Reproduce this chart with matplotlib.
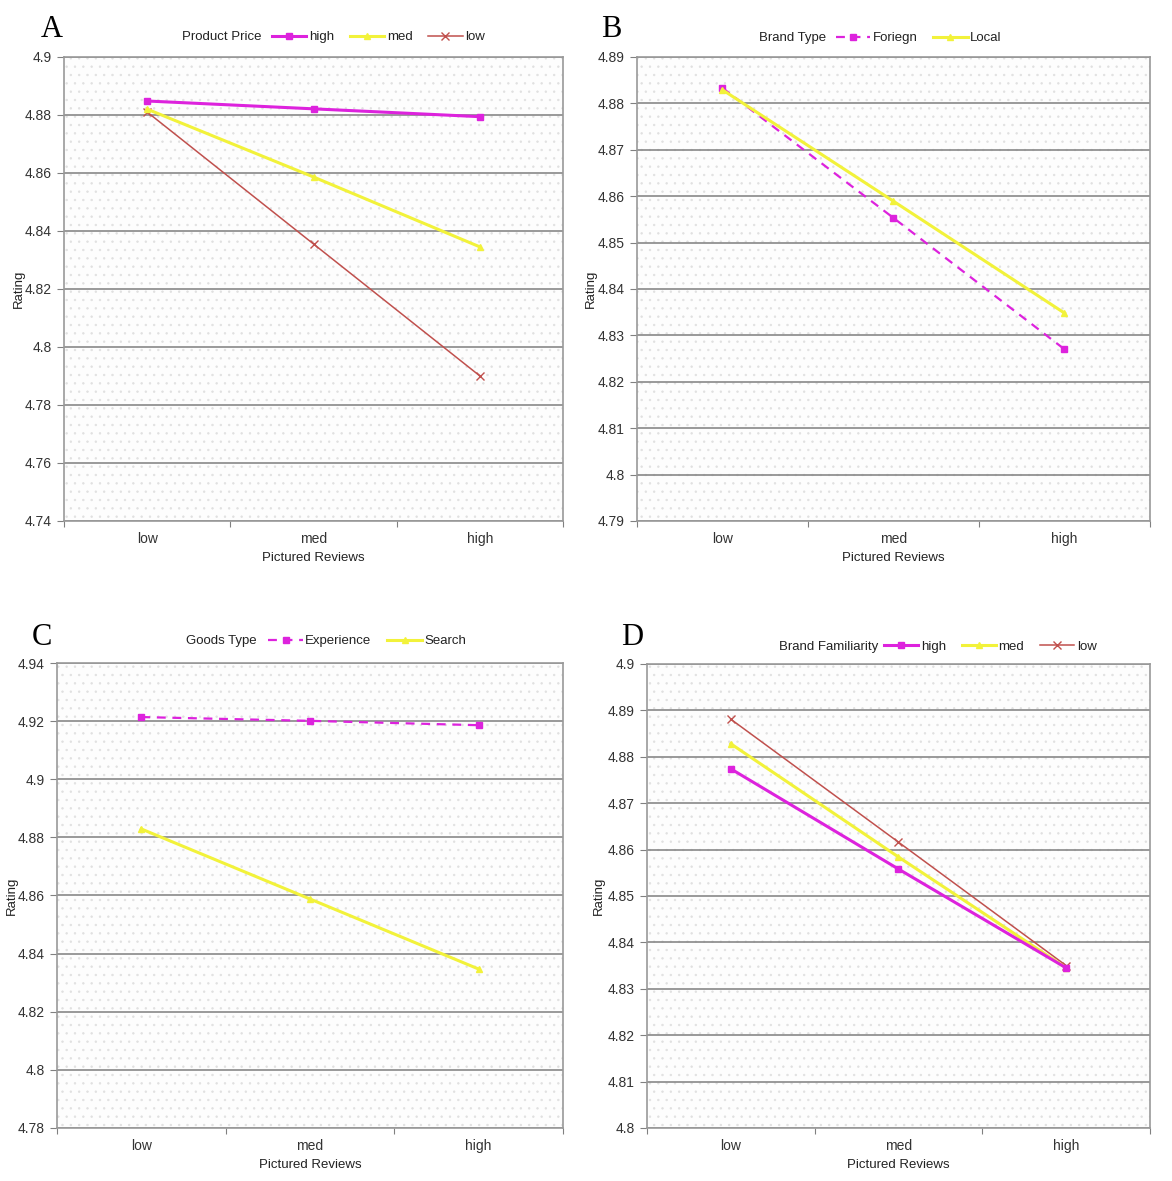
import matplotlib
matplotlib.use('Agg')
import matplotlib.pyplot as plt
from matplotlib.lines import Line2D

plt.rcParams['font.family'] = ['Liberation Sans', 'DejaVu Sans']
plt.rcParams['hatch.linewidth'] = 0.5

cats = ['low', 'med', 'high']

# A: product price
a_high = [4.8848, 4.8821, 4.8794]
a_med = [4.8820, 4.8586, 4.8345]
a_low = [4.8810, 4.8355, 4.7900]

# B: brand type
b_foreign = [4.8833, 4.8553, 4.8270]
b_local = [4.8829, 4.8589, 4.8348]

# C: goods type
c_exp = [4.9214, 4.9201, 4.9186]
c_search = [4.8829, 4.8588, 4.8347]

# D: brand familiarity
d_high = [4.8774, 4.8558, 4.8345]
d_med = [4.8828, 4.8584, 4.8345]
d_low = [4.8881, 4.8616, 4.8350]

MAG = '#dd22dd'
YEL = '#f2f23a'
RED = '#c0504d'

st_high = dict(color=MAG, lw=2.2, marker='s', ms=5)
st_med = dict(color=YEL, lw=2.2, marker='^', ms=5)
st_low = dict(color=RED, lw=1.1, marker='x', ms=6, mew=1)
st_dash = dict(color=MAG, lw=1.6, ls=(0, (4, 3)), marker='s', ms=5)

fig = plt.figure(figsize=(11.72, 11.81), dpi=100)


def setup(ax, ylim, step, ylab_x):
    ax.set_facecolor('#fdfdfd')
    ax.patch.set_edgecolor('#e0e0e0')
    ax.patch.set_linewidth(0)
    ax.patch.set_hatch('..')
    ax.set_xlim(0, 3)
    ax.set_ylim(*ylim)
    n = int(round((ylim[1] - ylim[0]) / step))
    yt = [ylim[0] + i * step for i in range(n + 1)]
    ax.set_yticks(yt)
    ax.set_yticklabels(['%g' % round(v, 3) for v in yt])
    ax.set_xticks([0, 1, 2, 3])
    ax.set_xticklabels([])
    ax.set_xticks([0.5, 1.5, 2.5], minor=True)
    ax.set_xticklabels(cats, minor=True)
    ax.tick_params(axis='x', which='minor', length=0, pad=8, labelsize=10, labelcolor='#333333')
    ax.tick_params(axis='x', which='major', length=4, color='#808080')
    ax.tick_params(axis='y', length=5, color='#808080', labelsize=10, pad=4, labelcolor='#333333')
    ax.grid(axis='y', color='#888888', lw=1.2)
    ax.set_axisbelow(True)
    for s in ax.spines.values():
        s.set_color('#999999')
        s.set_linewidth(1.2)
    ax.set_xlabel('Pictured Reviews', fontsize=9.5, labelpad=4, color='#222222')
    ax.set_ylabel('Rating', fontsize=9.5, color='#222222')
    ax.yaxis.set_label_coords(ylab_x, 0.5)


x = [0.5, 1.5, 2.5]

# A
axA = fig.add_axes([0.0546, 0.5589, 0.4258, 0.3929])
setup(axA, (4.74, 4.9), 0.02, -0.078)
axA.plot(x, a_low, **st_low)
axA.plot(x, a_med, **st_med)
axA.plot(x, a_high, **st_high)

# B
axB = fig.add_axes([0.5435, 0.5589, 0.4377, 0.3929])
setup(axB, (4.79, 4.89), 0.01, -0.078)
axB.plot(x, b_foreign, **st_dash)
axB.plot(x, b_local, **st_med)

# C
axC = fig.add_axes([0.0486, 0.0449, 0.4317, 0.3937])
setup(axC, (4.78, 4.94), 0.02, -0.078)
axC.plot(x, c_search, **st_med)
axC.plot(x, c_exp, **st_dash)

# D
axD = fig.add_axes([0.552, 0.0449, 0.4292, 0.3929])
setup(axD, (4.8, 4.9), 0.01, -0.083)
axD.plot(x, d_low, **st_low)
axD.plot(x, d_med, **st_med)
axD.plot(x, d_high, **st_high)

for lbl, px, py in [('A', 0.035, 0.975), ('B', 0.513, 0.975), ('C', 0.027, 0.46), ('D', 0.53, 0.46)]:
    fig.text(px, py, lbl, family='Liberation Serif', fontsize=22, va='center')


def h(st):
    return Line2D([], [], **st)


def top_legend(title, tx, ty, handles, labels, lx):
    fig.text(tx, ty, title, fontsize=9.5, va='center', color='#222222')
    fig.legend(handles, labels, loc='center left', bbox_to_anchor=(lx, ty),
               ncol=len(handles), frameon=False, fontsize=9.5, handlelength=2.6,
               handletextpad=0.2, columnspacing=1.2, borderaxespad=0, borderpad=0,
               labelcolor='#222222')


top_legend('Product Price', 0.155, 1 - 37 / 1181, [h(st_high), h(st_med), h(st_low)],
           ['high', 'med', 'low'], 0.232)
top_legend('Brand Type', 0.648, 1 - 38 / 1181, [h(st_dash), h(st_med)],
           ['Foriegn', 'Local'], 0.713)
top_legend('Goods Type', 0.159, 1 - 641 / 1181, [h(st_dash), h(st_med)],
           ['Experience', 'Search'], 0.229)
top_legend('Brand Familiarity', 0.665, 1 - 647 / 1181, [h(st_high), h(st_med), h(st_low)],
           ['high', 'med', 'low'], 0.754)

fig.savefig('out.png', dpi=100)
